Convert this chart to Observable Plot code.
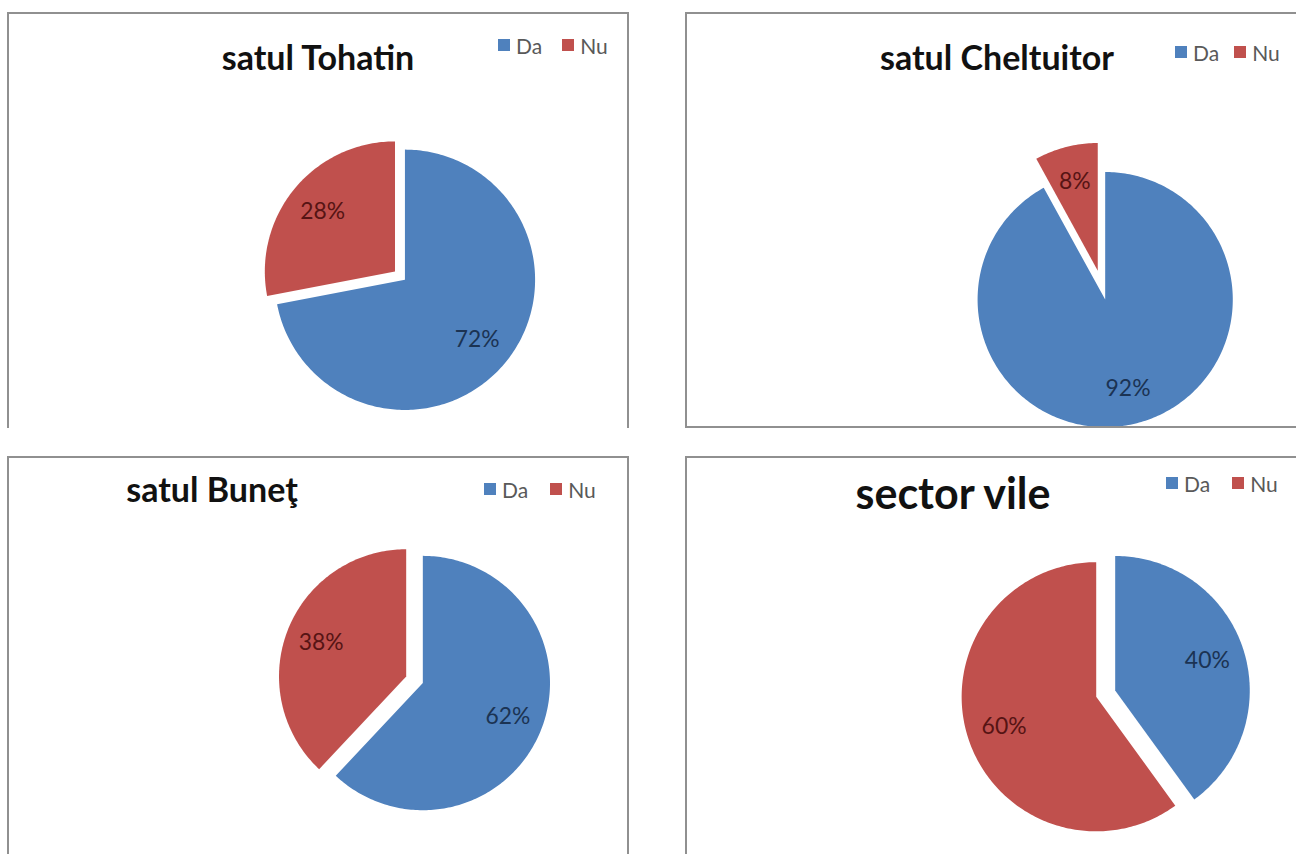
<!DOCTYPE html>
<html>
<head>
<meta charset="utf-8">
<script src="https://cdn.jsdelivr.net/npm/d3@7"></script>
<script src="https://cdn.jsdelivr.net/npm/@observablehq/plot@0.6"></script>
<style>
  body { margin: 0; background: #fff; font-family: Lato, "Noto Sans", sans-serif; }
  #page { position: relative; width: 1296px; height: 854px; overflow: hidden; background: #fff; }
  .panel { position: absolute; box-sizing: border-box; border: 2px solid #909090; overflow: hidden; background: #fff; }
  .panel svg { position: absolute; left: 0; top: 0; overflow: visible; }
  .title { position: absolute; font-weight: bold; color: #111; white-space: nowrap; line-height: 1; transform: translateX(-50%); }
  .legend { position: absolute; display: flex; align-items: center; height: 24px; font-size: 21px; color: #595959; white-space: nowrap; }
  .legend .item { display: flex; align-items: center; }
  .legend .sw { display: inline-block; width: 12px; height: 12px; margin-right: 6px; }
</style>
</head>
<body>
<div id="page"></div>
<script>
// ---------------- data ----------------
const panelTitles = ["satul Tohatin", "satul Cheltuitor", "satul Buneţ", "sector vile"];
const categories = ["Da", "Nu"];
const daPercent = [72, 92, 62, 40];
const nuPercent = [28, 8, 38, 60];
const sliceColors = ["#4F81BD", "#C0504D"];
const labelColors = ["#1b3353", "#561414"];

// ---------------- layout (page pixels) ----------------
const layout = [
  { box: {x: 7, y: 12, w: 622, h: 416}, noBorder: ["bottom"], cx: 407, cy: 281, r: 131, explode: {Nu: 13},
    title: {cx: 318, base: 70, size: 34}, legend: {x: 498, cy: 45, gap: 20} },
  { box: {x: 685, y: 12, w: 640, h: 416}, noBorder: ["right"], cx: 1106, cy: 300, r: 128, explode: {Nu: 30},
    title: {cx: 997, base: 70, size: 34}, legend: {x: 1175, cy: 52, gap: 15} },
  { box: {x: 7, y: 456, w: 622, h: 420}, noBorder: ["bottom"], cx: 425, cy: 684, r: 128, explode: {Nu: 18},
    title: {cx: 212, base: 502, size: 34}, legend: {x: 484, cy: 489, gap: 22} },
  { box: {x: 685, y: 456, w: 640, h: 420}, noBorder: ["right", "bottom"], cx: 1097, cy: 697, r: 135, explode: {Da: 20},
    title: {cx: 953, base: 509, size: 43}, legend: {x: 1166, cy: 483, gap: 22} }
];

const page = document.getElementById("page");
const pie = d3.pie().sort(null).value(d => d.value);

panelTitles.forEach((title, i) => {
  const L = layout[i];
  const panel = document.createElement("div");
  panel.className = "panel";
  Object.assign(panel.style, {left: L.box.x + "px", top: L.box.y + "px", width: L.box.w + "px", height: L.box.h + "px"});
  L.noBorder.forEach(side => panel.style["border-" + side] = "none");
  page.appendChild(panel);

  // inner coordinates (origin inside the border)
  const ox = L.box.x + 2, oy = L.box.y + 2;
  const w = L.box.w, h = L.box.h;
  const cx = L.cx - ox, cy = L.cy - oy, r = L.r;

  const rows = [
    {key: categories[0], value: daPercent[i]},
    {key: categories[1], value: nuPercent[i]}
  ];
  const arcs = pie(rows);
  const points = [];
  const labels = [];
  arcs.forEach(a => {
    const key = a.data.key;
    const off = (L.explode[key] || 0) / r;
    const mid = (a.startAngle + a.endAngle) / 2;
    const ex = off * Math.sin(mid), ey = off * Math.cos(mid);
    points.push({key, x: ex, y: ey});
    const n = Math.max(2, Math.ceil((a.endAngle - a.startAngle) / (Math.PI / 180)));
    for (let k = 0; k <= n; k++) {
      const t = a.startAngle + (a.endAngle - a.startAngle) * k / n;
      points.push({key, x: ex + Math.sin(t), y: ey + Math.cos(t)});
    }
    labels.push({key, x: ex + 0.72 * Math.sin(mid), y: ey + 0.72 * Math.cos(mid), text: a.data.value + "%"});
  });

  const chart = Plot.plot({
    width: w, height: h, margin: 0,
    x: {domain: [-cx / r, (w - cx) / r], axis: null},
    y: {domain: [-(h - cy) / r, cy / r], axis: null},
    color: {domain: categories, range: sliceColors},
    style: {background: "transparent", fontFamily: "Lato, 'Noto Sans', sans-serif"},
    marks: [
      Plot.line(points, {x: "x", y: "y", z: "key", fill: "key", stroke: "none", curve: "linear-closed"}),
      ...categories.map((c, ci) =>
        Plot.text(labels.filter(d => d.key === c), {x: "x", y: "y", text: "text", fill: labelColors[ci], fontSize: 23, fontFamily: "Lato"}))
    ]
  });
  panel.appendChild(chart);

  const t = document.createElement("div");
  t.className = "title";
  t.textContent = title;
  t.style.fontSize = L.title.size + "px";
  t.style.left = (L.title.cx - ox) + "px";
  t.style.top = (L.title.base - oy - 0.887 * L.title.size) + "px";
  panel.appendChild(t);

  const lg = document.createElement("div");
  lg.className = "legend";
  lg.style.left = (L.legend.x - ox) + "px";
  lg.style.top = (L.legend.cy - oy - 12) + "px";
  categories.forEach((c, ci) => {
    const item = document.createElement("span");
    item.className = "item";
    if (ci === 0) item.style.marginRight = L.legend.gap + "px";
    const sw = document.createElement("span");
    sw.className = "sw";
    sw.style.background = sliceColors[ci];
    item.appendChild(sw);
    item.appendChild(document.createTextNode(c));
    lg.appendChild(item);
  });
  panel.appendChild(lg);
});
</script>
</body>
</html>
